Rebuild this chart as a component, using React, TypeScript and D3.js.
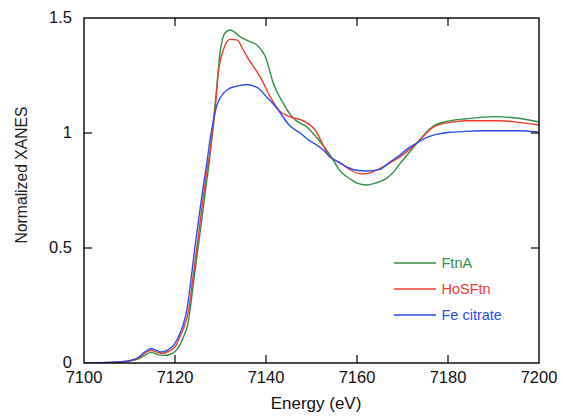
import React from "react";
import * as d3 from "d3";

const energyFtnA = [7100, 7108, 7110, 7112, 7113.5, 7114.7, 7116, 7117.2, 7118.5, 7120, 7121, 7122, 7122.7, 7123.3, 7124.2, 7125.1, 7126, 7126.8, 7127.5, 7128.1, 7129.2, 7129.9, 7131, 7132.1, 7133, 7134.3, 7136.5, 7138, 7140, 7141.6, 7143.8, 7146, 7148.9, 7151.9, 7154.1, 7156.3, 7158.5, 7160, 7162.1, 7164, 7166.5, 7168, 7169.5, 7171.5, 7173.2, 7176.8, 7180.4, 7184.1, 7190, 7195, 7200];
const valuesFtnA = [0, 0.003, 0.008, 0.018, 0.035, 0.046, 0.038, 0.033, 0.035, 0.05, 0.075, 0.12, 0.158, 0.23, 0.37, 0.506, 0.64, 0.767, 0.87, 0.984, 1.2, 1.348, 1.435, 1.448, 1.44, 1.419, 1.397, 1.383, 1.325, 1.216, 1.129, 1.064, 1.027, 0.962, 0.904, 0.835, 0.8, 0.782, 0.774, 0.782, 0.803, 0.83, 0.868, 0.915, 0.957, 1.03, 1.053, 1.062, 1.071, 1.065, 1.048];

const energyHoSFtn = [7100, 7105, 7108, 7110, 7112, 7113.5, 7114.7, 7116, 7117.2, 7118.5, 7120, 7121, 7122, 7123, 7124, 7125, 7126, 7127, 7128, 7128.8, 7129.5, 7130.6, 7132.1, 7133.6, 7135, 7135.8, 7137.9, 7138.7, 7140.9, 7143.1, 7145.3, 7148.2, 7150.8, 7152.5, 7153.7, 7156.3, 7158.5, 7161, 7163, 7165, 7167, 7169.5, 7173.2, 7176.8, 7180.4, 7184.1, 7191.4, 7196, 7200];
const valuesHoSFtn = [0, 0.002, 0.005, 0.01, 0.022, 0.045, 0.055, 0.048, 0.042, 0.05, 0.07, 0.11, 0.158, 0.23, 0.38, 0.53, 0.69, 0.83, 0.96, 1.1, 1.26, 1.36, 1.407, 1.405, 1.36, 1.332, 1.27, 1.245, 1.158, 1.093, 1.07, 1.053, 1.013, 0.95, 0.904, 0.87, 0.84, 0.822, 0.828, 0.845, 0.867, 0.897, 0.957, 1.026, 1.046, 1.053, 1.053, 1.045, 1.035];

const energyFeCitrate = [7100, 7105, 7108, 7110, 7112, 7113.5, 7114.7, 7116, 7117, 7118.5, 7119.8, 7121, 7122, 7122.6, 7123.5, 7124.4, 7125.3, 7126.2, 7127, 7127.7, 7128.4, 7129.2, 7129.9, 7131.4, 7133.6, 7135.8, 7138, 7140, 7142.3, 7145.3, 7147.5, 7149, 7152.6, 7154, 7156.3, 7158, 7160.3, 7162, 7165, 7167, 7169.5, 7171, 7173.2, 7175, 7176.8, 7180.4, 7184, 7187.7, 7195, 7200];
const valuesFeCitrate = [0, 0.002, 0.005, 0.01, 0.025, 0.05, 0.062, 0.055, 0.048, 0.058, 0.08, 0.125, 0.18, 0.23, 0.36, 0.506, 0.64, 0.767, 0.87, 0.97, 1.05, 1.12, 1.152, 1.187, 1.204, 1.21, 1.198, 1.16, 1.11, 1.03, 1.0, 0.975, 0.926, 0.897, 0.87, 0.85, 0.837, 0.835, 0.842, 0.87, 0.905, 0.93, 0.957, 0.978, 0.991, 1.003, 1.007, 1.01, 1.01, 1.005];

const seriesNames = ["FtnA", "HoSFtn", "Fe citrate"];
const seriesColors = ["#2f8f45", "#ee3b2b", "#2b4ef0"];
const xTicks = [7100, 7120, 7140, 7160, 7180, 7200];
const yTicks = [0, 0.5, 1, 1.5];
const yTickLabels = ["0", "0.5", "1", "1.5"];

export default function App() {
  const W = 563, H = 416;
  const left = 84, right = 539, top = 18, bottom = 363;
  const x = d3.scaleLinear().domain([7100, 7200]).range([left, right]);
  const y = d3.scaleLinear().domain([0, 1.5]).range([bottom, top]);
  const line = d3
    .line<[number, number]>()
    .x((d) => x(d[0]))
    .y((d) => y(d[1]))
    .curve(d3.curveMonotoneX);

  const series = [
    energyFtnA.map((e, i) => [e, valuesFtnA[i]] as [number, number]),
    energyHoSFtn.map((e, i) => [e, valuesHoSFtn[i]] as [number, number]),
    energyFeCitrate.map((e, i) => [e, valuesFeCitrate[i]] as [number, number]),
  ];
  const font = "'Liberation Sans', Arial, sans-serif";
  const tickLen = 8;
  const legendY = [263, 289, 315];

  return (
    <svg
      width={W}
      height={H}
      style={{ position: "absolute", left: 0, top: 0, background: "#fff" }}
      fontFamily={font}
    >
      <rect x={0} y={0} width={W} height={H} fill="#fff" />
      <defs>
        <clipPath id="plotclip">
          <rect x={left} y={top} width={right - left} height={bottom - top} />
        </clipPath>
      </defs>
      <g clipPath="url(#plotclip)">
        {series.map((s, i) => (
          <path key={i} d={line(s) || ""} fill="none" stroke={seriesColors[i]} strokeWidth={1.4} />
        ))}
      </g>
      {xTicks.slice(1, -1).map((t) => (
        <g key={"xt" + t}>
          <line x1={x(t)} x2={x(t)} y1={bottom} y2={bottom - tickLen} stroke="#000" strokeWidth={1.2} />
          <line x1={x(t)} x2={x(t)} y1={top} y2={top + tickLen} stroke="#000" strokeWidth={1.2} />
        </g>
      ))}
      {yTicks.slice(1, -1).map((t) => (
        <g key={"yt" + t}>
          <line x1={left} x2={left + tickLen} y1={y(t)} y2={y(t)} stroke="#000" strokeWidth={1.2} />
          <line x1={right} x2={right - tickLen} y1={y(t)} y2={y(t)} stroke="#000" strokeWidth={1.2} />
        </g>
      ))}
      <rect x={left} y={top} width={right - left} height={bottom - top} fill="none" stroke="#000" strokeWidth={1.4} />
      {xTicks.map((t) => (
        <text key={"xl" + t} x={x(t)} y={bottom + 20} textAnchor="middle" fontSize={16.5} fill="#111">
          {t}
        </text>
      ))}
      {yTicks.map((t, i) => (
        <text key={"yl" + t} x={72} y={y(t) + 5} textAnchor="end" fontSize={16.5} fill="#111">
          {yTickLabels[i]}
        </text>
      ))}
      <text x={316} y={409} textAnchor="middle" fontSize={17} fill="#111">
        Energy (eV)
      </text>
      <text
        transform={`translate(26.5,175) rotate(-90)`}
        textAnchor="middle"
        fontSize={15.7}
        fill="#222"
      >
        Normalized XANES
      </text>
      {seriesNames.map((n, i) => (
        <g key={n}>
          <line x1={394} x2={436} y1={legendY[i]} y2={legendY[i]} stroke={seriesColors[i]} strokeWidth={1.4} />
          <text x={441.5} y={legendY[i] + 5} fontSize={14.5} fill={seriesColors[i]}>
            {n}
          </text>
        </g>
      ))}
    </svg>
  );
}
